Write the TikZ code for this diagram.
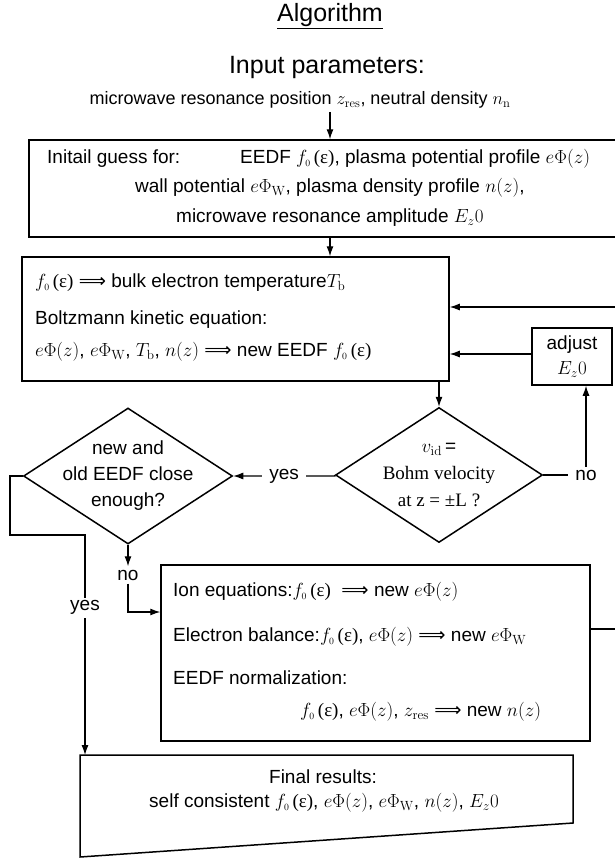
\documentclass[tikz,border=0pt]{standalone}
\usepackage{fix-cm}
\usepackage[no-math]{fontspec}
\setmainfont{Liberation Sans}
\newfontfamily\tms{Liberation Serif}
\newfontfamily\dvs{DejaVu Sans}
\usetikzlibrary{arrows.meta,shapes.geometric}
\newcommand{\feps}{$f_{\scriptscriptstyle 0}$\,{\tms(ε)}}
\newcommand{\ephi}{$e\Phi(z)$}
\newcommand{\ephiw}{$e\Phi_{\mathrm{W}}$}
\newcommand{\gives}{{\dvs ⟹}}

\begin{document}
\begin{tikzpicture}[x=1pt,y=-1pt,
  font=\fontsize{19}{23}\selectfont,
  box/.style={draw,line width=1.5pt,inner sep=0pt},
  arr/.style={-{Latex[length=10pt,width=7pt]},line width=1.1pt},
  lbl/.style={fill=white,inner ysep=3pt,inner xsep=7pt},
  txt/.style={anchor=west,inner sep=0pt}]
\useasboundingbox (0,0) rectangle (615,859);

% heading and inputs
\node (title) at (330,16) {\fontsize{25}{30}\selectfont\underline{Algorithm}};
\node (inhead) at (327,67) {\fontsize{25}{30}\selectfont Input parameters:};
\node (inp) at (300,100) {\fontsize{18}{22}\selectfont microwave resonance position $z_{\mathrm{res}}$, neutral density $n_{\mathrm{n}}$};

% initial guess
\node[box,minimum width=591,minimum height=97] (init) at (324.5,188.5) {};
\node[txt] (initlbl) at (47,159) {Initail guess for:};
\node[txt] (initl1) at (240,159) {EEDF \feps, plasma potential profile \ephi};
\node[txt] (initl2) at (135,188) {wall potential \ephiw, plasma density profile $n(z)$,};
\node[txt] (initl3) at (176,218) {microwave resonance amplitude $E_{z}0$};

% Boltzmann step
\node[box,minimum width=427,minimum height=124] (boltz) at (235.5,319) {};
\node[txt] (boltzl1) at (35,283) {\feps\ \gives\ bulk electron temperature$T_{\mathrm{b}}$};
\node[txt] (boltzl2) at (35,320) {Boltzmann kinetic equation:};
\node[txt] (boltzl3) at (35,352) {\ephi,\ \ephiw, $T_{\mathrm{b}}$, $n(z)$ \gives\ new EEDF \feps};

\node[box,minimum width=80,minimum height=57,align=center] (adj) at (572,356.5) {adjust\\[2pt]$E_{z}0$};

% decisions
\node[box,diamond,minimum width=209,minimum height=136,
  label={[align=center,font=\fontsize{19}{26}\selectfont]center:new and\\old EEDF close\\enough?}] (conv) at (128,476) {};
\node[box,diamond,minimum width=207,minimum height=135,
  label={[align=center,font=\fontsize{19}{27}\selectfont]center:$v_{\mathrm{id}}$\,=\\{\tms Bohm velocity}\\{\tms at z = ±L ?}}] (bohm) at (439,475) {};
\node (nolbl) at (128,575) {no};

% ion and electron step
\node[box,minimum width=429,minimum height=176] (ions) at (375.5,653) {};
\node[txt] (ionsl1) at (173,592) {Ion equations:\feps\ \ \gives\ new \ephi};
\node[txt] (ionsl2) at (173,637) {Electron balance:\feps, \ephi\ \gives\ new \ephiw};
\node[txt] (ionsl3) at (173,678) {EEDF normalization:};
\node[txt] (ionsl4) at (300,712) {\feps, \ephi, $z_{\mathrm{res}}$ \gives\ new $n(z)$};

% final results
\coordinate (fa) at (80,755);
\coordinate (fb) at (573,755);
\coordinate (fc) at (573,823);
\coordinate (fd) at (80,857);
\coordinate (fintop) at (85,755);
\draw[line width=1.5pt] (fa) -- (fb) -- (fc) -- (fd) -- cycle;
\node (finhead) at (323,777) {Final results:};
\node (finl) at (324,803) {self consistent \feps, \ephi, \ephiw, $n(z)$, $E_{z}0$};

% connectors
\draw[arr] (inp.south -| 330,0) -- (init.north -| 330,0);
\draw[arr] (init.south -| 330,0) -- (boltz.north -| 330,0);
\draw[arr] (ions.east |- 0,629) -- (622,629) -- (622,307) -- (boltz.east |- 0,307);
\draw[arr] (adj.west |- 0,354) -- (boltz.east |- 0,354);
\draw[arr] (boltz.south -| bohm.north) -- (bohm.north);
\draw[arr] (bohm.east) -| node[lbl,pos=0.5] {no} (adj.south -| 586,0);
\draw[arr] (bohm.west) -- (conv.east -| 335,0) -- node[lbl] {yes} (conv.east);
\draw[arr] (conv.south) -- (nolbl.north);
\draw[arr] (nolbl.south) |- (ions.west |- 0,612);
\draw[arr] (conv.west) -- (10,476) |- (85,535) -- node[lbl,pos=0.33] {yes} (fintop);
\end{tikzpicture}
\end{document}
